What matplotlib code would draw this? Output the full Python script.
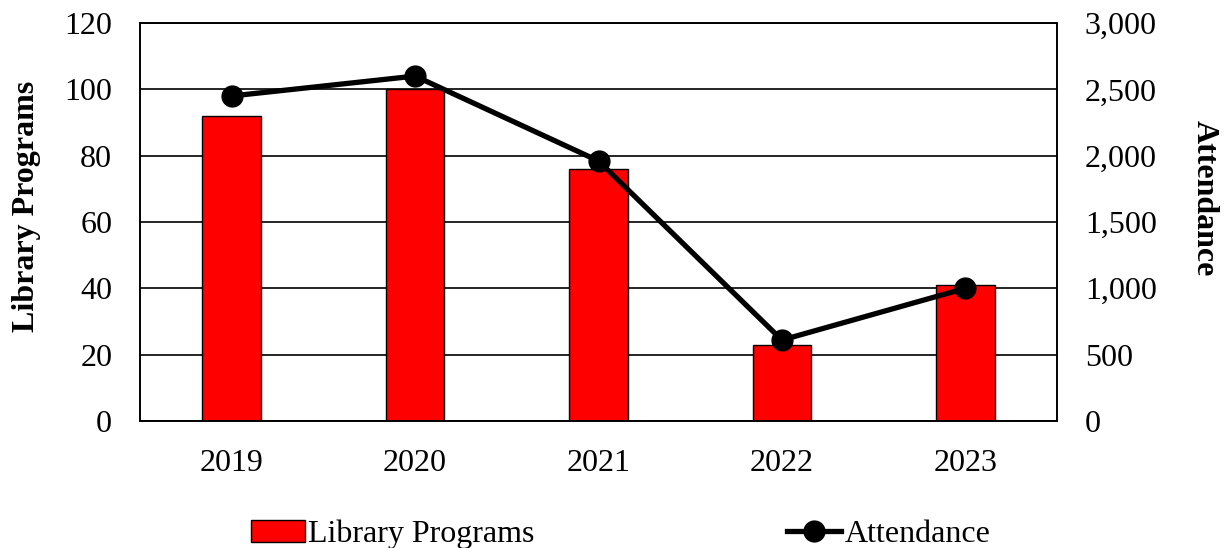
import matplotlib.pyplot as plt
import numpy as np

years = ['2019', '2020', '2021', '2022', '2023']
programs = [92, 100, 76, 23, 41]
attendance = [2450, 2600, 1960, 610, 1000]

plt.rcParams['font.family'] = ['Liberation Serif', 'DejaVu Serif']

fig = plt.figure(figsize=(12.31, 5.48), dpi=100)
ax = fig.add_axes([0.1137, 0.2318, 0.745, 0.7262])
ax2 = ax.twinx()

x = np.arange(len(years))
ax.bar(x, programs, width=0.32, color='#ff0000', edgecolor='black', linewidth=1,
       label='Library Programs', zorder=2)
ax2.plot(x, attendance, color='black', linewidth=3.8, marker='o', markersize=15,
         label='Attendance', zorder=3)

ax.set_xlim(-0.5, 4.5)
ax.set_ylim(0, 120)
ax.set_yticks(range(0, 121, 20))
ax2.set_ylim(0, 3000)
ax2.set_yticks(range(0, 3001, 500))
ax2.set_yticklabels([f'{v:,}' for v in range(0, 3001, 500)])
ax.set_xticks(x)
ax.set_xticklabels(years)

ax.yaxis.grid(True, color='black', linewidth=1.2, zorder=0)
ax.set_axisbelow(True)

for a in (ax, ax2):
    a.tick_params(length=0, labelsize=23)
    for s in a.spines.values():
        s.set_color('black')
        s.set_linewidth(1.2)
ax.tick_params(axis='y', pad=20)
ax2.tick_params(axis='y', pad=20)
ax.tick_params(axis='x', pad=20)

ax.set_ylabel('Library Programs', fontsize=23, fontweight='bold')
ax.yaxis.set_label_coords(-0.108, 0.54)
ax2.set_ylabel('Attendance', fontsize=23, fontweight='bold', rotation=270)
ax2.yaxis.set_label_coords(1.176, 0.56)

# keep line on top of bars
ax.set_zorder(1)
ax.patch.set_visible(False)
ax2.set_zorder(2)

h1, l1 = ax.get_legend_handles_labels()
h2, l2 = ax2.get_legend_handles_labels()
fig.legend(h1 + h2, l1 + l2, loc='lower center', bbox_to_anchor=(0.504, -0.055), ncol=2,
           frameon=False, fontsize=23, columnspacing=7.9, handlelength=1.7,
           handletextpad=0.1)

fig.savefig('out.png', dpi=100)
